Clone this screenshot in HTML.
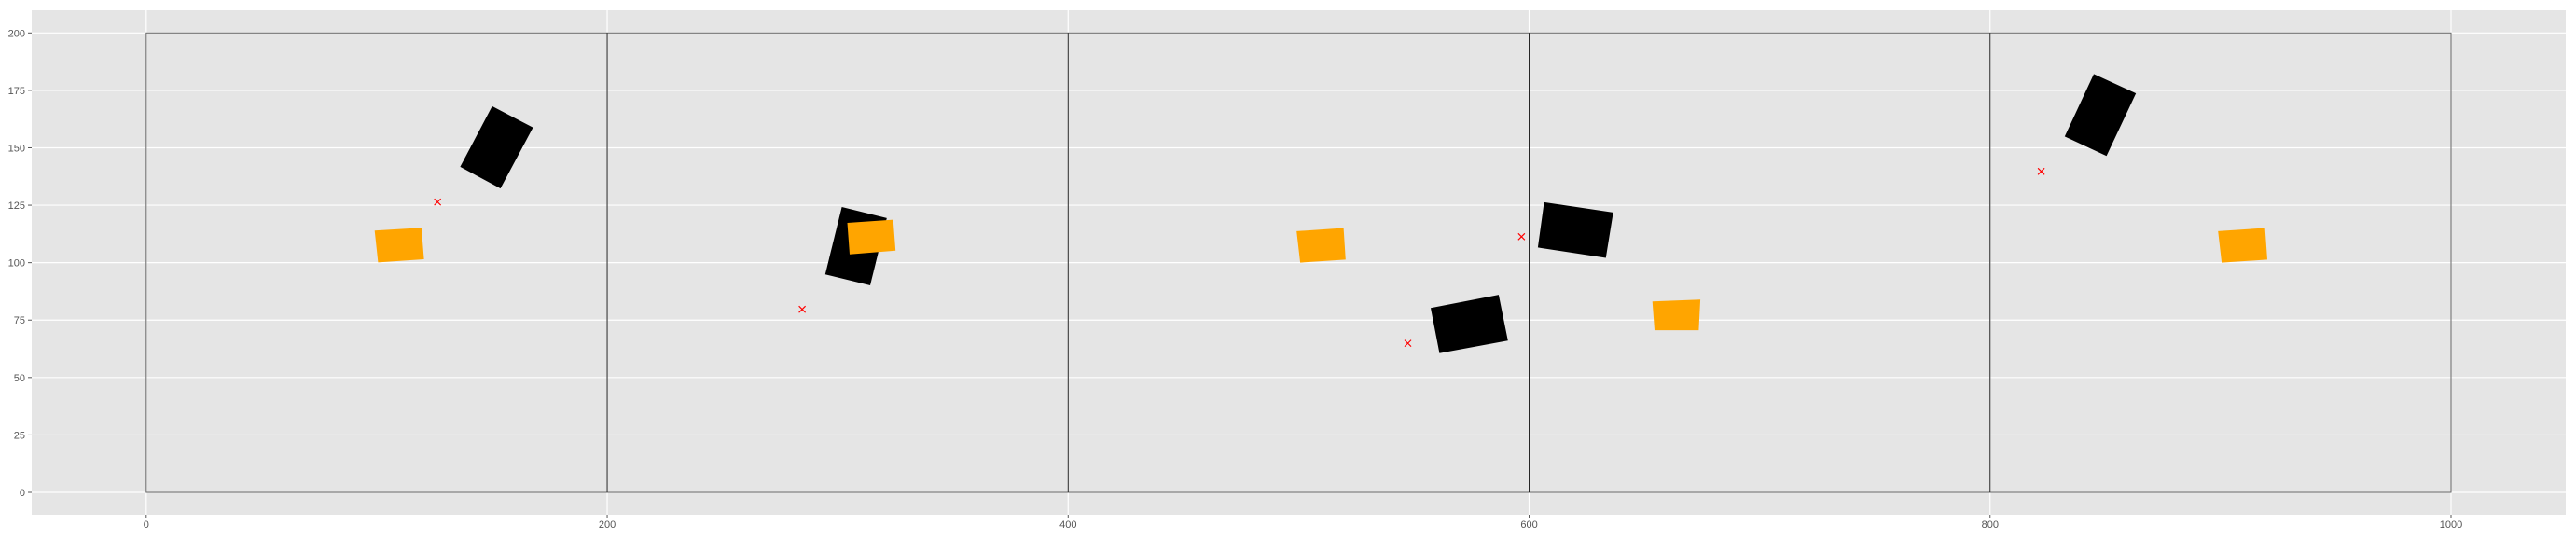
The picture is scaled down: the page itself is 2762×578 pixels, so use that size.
<!DOCTYPE html>
<html><head><meta charset="utf-8"><style>
html,body{margin:0;padding:0;background:#fff;}
svg{display:block;font-family:"Liberation Sans","DejaVu Sans",sans-serif;}
</style></head><body>
<svg id="chart" width="2762" height="578" viewBox="0 0 2762 578" xmlns="http://www.w3.org/2000/svg">
<rect x="34" y="11" width="2717" height="541" fill="#e5e5e5"/>
<g id="grid"></g>
<g id="regions"></g>
<g id="marks"></g>
<g id="ticks"></g>
</svg>
<script>
const xTicks = [0,200,400,600,800,1000];
const yTicks = [0,25,50,75,100,125,150,175,200];
const regionBounds = [0,200,400,600,800,1000];
const regionHeight = 200;
const blackCars = [
 [[150.1,168.1],[167.8,158.8],[153.7,132.3],[136.2,141.7]],
 [[301.8,124.2],[321.3,119.4],[314.1,90.1],[294.6,94.9]],
 [[557.3,80.3],[586.8,86.0],[590.8,66.1],[561.1,60.6]],
 [[606.5,126.3],[636.5,121.8],[633.3,102.1],[603.8,106.6]],
 [[845.0,182.1],[863.3,173.7],[850.5,146.4],[832.4,154.9]]
];
const orangeCars = [
 [[99.1,114.0],[119.4,115.2],[120.5,101.5],[100.6,100.1]],
 [[304.2,117.3],[324.1,118.7],[325.1,105.2],[305.2,103.6]],
 [[499.1,113.7],[519.5,115.1],[520.4,101.3],[500.7,100.0]],
 [[653.5,83.1],[674.3,83.9],[673.6,70.6],[654.4,70.6]],
 [[898.9,113.7],[919.3,115.1],[920.3,101.3],[900.5,100.0]]
];
const targetX = [126.4,284.6,547.4,596.7,822.2];
const targetY = [126.4,79.7,64.9,111.3,139.7];

const NS="http://www.w3.org/2000/svg";
const L=34,R=2751,T=11,B=552;
const sx=v=>156.8+v*(2628-156.8)/1000;
const sy=v=>528-v*(528-35.3)/200;
function mk(tag,attrs,parent){const e=document.createElementNS(NS,tag);for(const k in attrs)e.setAttribute(k,attrs[k]);parent.appendChild(e);return e;}
const grid=document.getElementById('grid'),regions=document.getElementById('regions'),marks=document.getElementById('marks'),ticks=document.getElementById('ticks');
xTicks.forEach(t=>{
 const l=mk('line',{x1:sx(t),x2:sx(t),y1:T,y2:B,stroke:'#fff','stroke-width':1.2},grid);
 
 
 const tk=mk('line',{x1:sx(t),x2:sx(t),y1:B,y2:B+4,stroke:'#555','stroke-width':1},ticks);
 
 
 const tx=mk('text',{x:sx(t),y:B+14,'text-anchor':'middle','font-size':11,fill:'#555'},ticks);
 tx.textContent=t;
 
 
});
yTicks.forEach(t=>{
 const l=mk('line',{x1:L,x2:R,y1:sy(t),y2:sy(t),stroke:'#fff','stroke-width':1.2},grid);
 
 
 const tk=mk('line',{x1:L-4,x2:L,y1:sy(t),y2:sy(t),stroke:'#555','stroke-width':1},ticks);
 
 
 const tx=mk('text',{x:L-7,y:sy(t)+4,'text-anchor':'end','font-size':11,fill:'#555'},ticks);
 tx.textContent=t;
 
 
});
const bx=mk('rect',{x:sx(regionBounds[0]),y:sy(regionHeight),width:sx(regionBounds[regionBounds.length-1])-sx(regionBounds[0]),height:sy(0)-sy(regionHeight),fill:'none',stroke:'#666','stroke-width':1},regions);


regionBounds.slice(1,-1).forEach(b=>{
 const l=mk('line',{x1:sx(b),x2:sx(b),y1:sy(regionHeight),y2:sy(0),stroke:'#222','stroke-width':1},regions);
 
 
});
const pts=p=>p.map(q=>sx(q[0]).toFixed(1)+','+sy(q[1]).toFixed(1)).join(' ');
blackCars.forEach(c=>{
 const p=mk('polygon',{points:pts(c),fill:'#000'},marks);
 
 
});
orangeCars.forEach(c=>{
 const p=mk('polygon',{points:pts(c),fill:'#ffa500'},marks);
 
 
});
targetX.forEach((x,i)=>{
 const cx=sx(x),cy=sy(targetY[i]),d=3.5;
 const p=mk('path',{d:`M${cx-d},${cy-d}L${cx+d},${cy+d}M${cx-d},${cy+d}L${cx+d},${cy-d}`,stroke:'#ff0000','stroke-width':1.2,fill:'none'},marks);
 
 
});
</script>
</body></html>
